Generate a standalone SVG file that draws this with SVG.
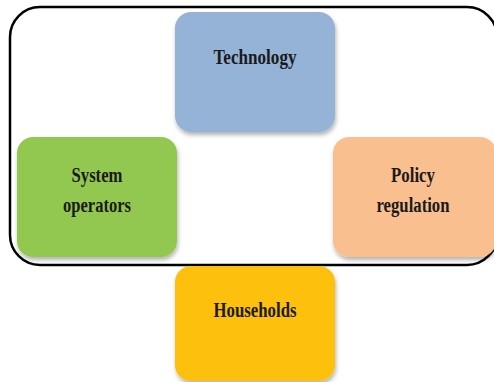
<svg xmlns="http://www.w3.org/2000/svg" width="494" height="382" viewBox="0 0 494 382">
<defs>
<filter id="sh" x="-10%" y="-10%" width="120%" height="125%">
<feDropShadow dx="1" dy="3" stdDeviation="2" flood-color="#000" flood-opacity="0.3"/>
</filter>
</defs>
<style>
.box{filter:url(#sh);}
.lbl{font-family:"Liberation Serif","Times New Roman",serif;font-weight:bold;font-size:20px;fill:#1a1a1a;text-anchor:middle;}
</style>
<rect width="494" height="382" fill="#fff"/>
<g id="frame">
<rect x="10" y="7" width="487" height="258" rx="30" ry="30" fill="none" stroke="#000" stroke-width="2.5"/>
</g>
<g id="connectors"></g>
<g id="technology">
<rect class="box" x="175" y="12" width="160" height="120" rx="16" fill="#95B3D7"/>
<text class="lbl" x="255" y="64" textLength="83" lengthAdjust="spacingAndGlyphs">Technology</text>
</g>
<g id="system-operators">
<rect class="box" x="17" y="137" width="160" height="120" rx="16" fill="#92C850"/>
<text class="lbl" x="97" y="182" textLength="51" lengthAdjust="spacingAndGlyphs">System</text>
<text class="lbl" x="97" y="212" textLength="68" lengthAdjust="spacingAndGlyphs">operators</text>
</g>
<g id="policy-regulation">
<rect class="box" x="333" y="137" width="163" height="120" rx="16" fill="#FABF8F"/>
<text class="lbl" x="413" y="182" textLength="44" lengthAdjust="spacingAndGlyphs">Policy</text>
<text class="lbl" x="413" y="212" textLength="73" lengthAdjust="spacingAndGlyphs">regulation</text>
</g>
<g id="households">
<rect class="box" x="175" y="266" width="160" height="115" rx="16" fill="#FDC010"/>
<text class="lbl" x="255" y="317" textLength="83" lengthAdjust="spacingAndGlyphs">Households</text>
</g>
</svg>
